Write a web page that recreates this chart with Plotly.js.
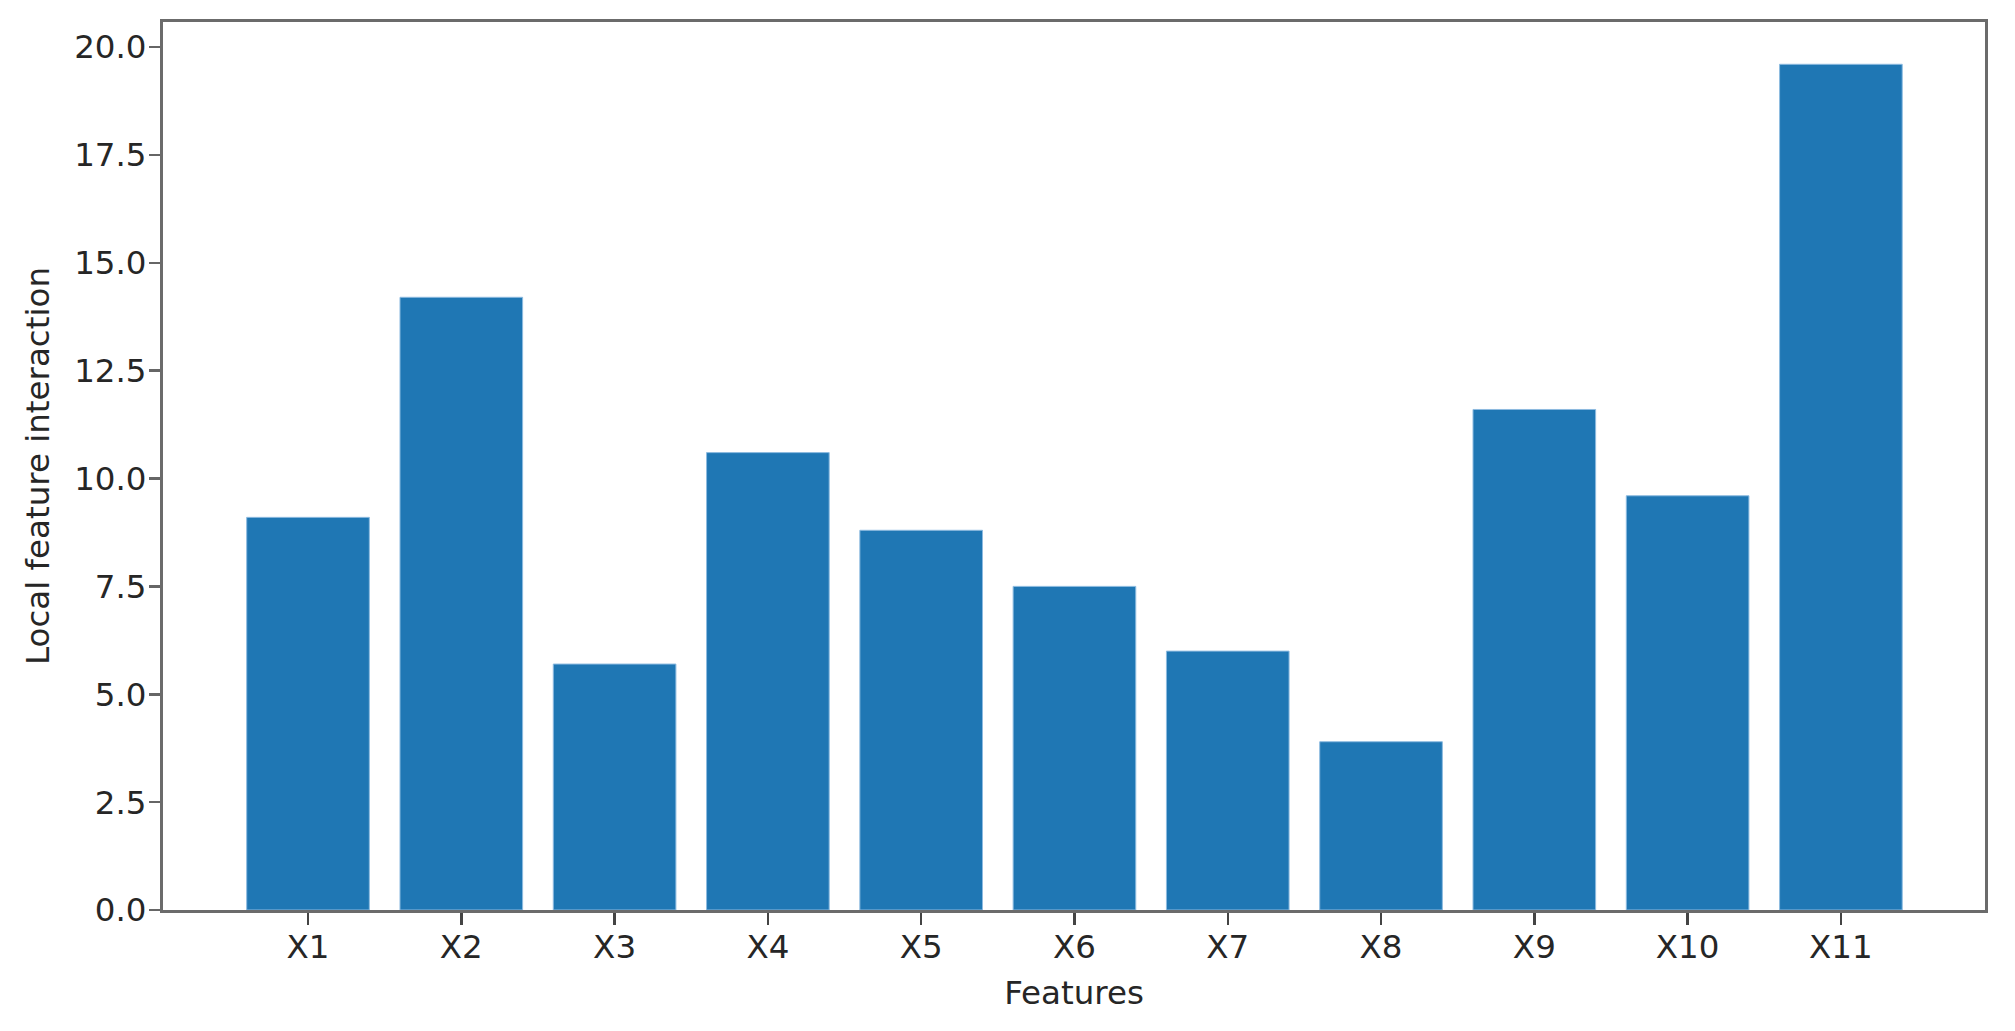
<!DOCTYPE html>
<html>
<head>
<meta charset="utf-8">
<script src="https://cdn.plot.ly/plotly-3.0.1.min.js"></script>
<style>html,body{margin:0;padding:0;background:#fff;}#chart{width:2015px;height:1031px;}</style>
</head>
<body>
<div id="chart"></div>
<script>
const categories = ["X1","X2","X3","X4","X5","X6","X7","X8","X9","X10","X11"];
const values = [9.1, 14.2, 5.7, 10.6, 8.8, 7.5, 6.0, 3.9, 11.6, 9.6, 19.6];
const yTickVals = [0, 2.5, 5, 7.5, 10, 12.5, 15, 17.5, 20];
const yTickText = ["0.0","2.5","5.0","7.5","10.0","12.5","15.0","17.5","20.0"];
const xTitle = "Features";
const yTitle = "Local feature interaction";

const font = {family: "DejaVu Sans", size: 32.5, color: "#262626"};
const trace = {
  type: "bar",
  x: categories,
  y: values,
  width: 0.8,
  marker: {color: "#1f77b4", line: {color: "#8dbbe0", width: 1}},
  hoverinfo: "x+y"
};
const layout = {
  width: 2015, height: 1031, autosize: false,
  margin: {l: 163, r: 30, t: 22, b: 121, pad: 0},
  paper_bgcolor: "#fff", plot_bgcolor: "#fff",
  font: font,
  showlegend: false,
  bargap: 0.2,
  xaxis: {
    type: "category",
    range: [-0.946, 10.94],
    showline: true, linecolor: "#6b6b6b", linewidth: 3, mirror: true,
    ticks: "outside", ticklen: 12, tickwidth: 2.5, tickcolor: "#444",
    showgrid: false, zeroline: false,
    tickfont: font,
    ticklabelstandoff: -6,
    title: {text: xTitle, font: font, standoff: 17}
  },
  yaxis: {
    range: [0, 20.58],
    tickvals: yTickVals, ticktext: yTickText,
    showline: true, linecolor: "#6b6b6b", linewidth: 3, mirror: true,
    ticks: "outside", ticklen: 11, tickwidth: 2.5, tickcolor: "#666",
    showgrid: false, zeroline: false,
    tickfont: font,
    ticklabelstandoff: -4,
    title: {text: yTitle, font: font, standoff: 15}
  }
};
Plotly.newPlot("chart", [trace], layout, {displayModeBar: false, staticPlot: true});
</script>
</body>
</html>
